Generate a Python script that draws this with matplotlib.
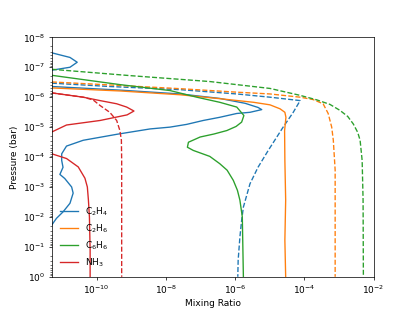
import numpy as np
import matplotlib
matplotlib.use("Agg")
import matplotlib.pyplot as plt

# C2H4
c2h4_x = [1.17e-12, 5.1e-12, 1.7e-11, 2.75e-11, 1.7e-11, 5.6e-12, 1.17e-12, 5.1e-12,
          4.7e-10, 2.6e-8, 3.6e-7, 1.95e-6, 4.6e-6, 5.9e-6, 2.7e-6, 1.12e-6, 3.6e-7,
          1.2e-7, 4.0e-8, 1.32e-8, 3.5e-9, 3.8e-10, 4.1e-11, 1.35e-11, 9.8e-12, 9.8e-12,
          1.07e-11, 8.7e-12, 1.2e-11, 1.9e-11, 2.1e-11, 1.7e-11, 1.07e-11, 6.9e-12,
          5.0e-12, 2.3e-12]
c2h4_p = [1.9e-8, 3.3e-8, 4.7e-8, 6.8e-8, 1.0e-7, 1.23e-7, 2.0e-7, 4.4e-7,
          5.8e-7, 7.8e-7, 1.1e-6, 1.6e-6, 2.2e-6, 2.6e-6, 3.2e-6, 3.5e-6, 4.7e-6,
          6.0e-6, 8.1e-6, 1.0e-5, 1.15e-5, 1.74e-5, 2.75e-5, 4.3e-5, 7.8e-5, 1.3e-4,
          2.2e-4, 3.8e-4, 5.2e-4, 1.0e-3, 1.6e-3, 3.5e-3, 6.8e-3, 1.12e-2,
          1.9e-2, 6.0e-2]
c2h4_dash_x = [5.1e-12, 2.4e-10, 2.6e-8, 1.12e-6, 1.02e-5, 7.6e-5, 4.8e-5, 2.45e-5,
               9.1e-6, 4.6e-6, 2.7e-6, 1.74e-6, 1.55e-6, 1.38e-6, 1.23e-6, 1.2e-6]
c2h4_dash_p = [3.4e-7, 4.4e-7, 5.6e-7, 7.8e-7, 1.0e-6, 1.3e-6, 3.2e-6, 1.0e-5,
               6.0e-5, 2.2e-4, 7.8e-4, 4.7e-3, 1.3e-2, 4.7e-2, 0.275, 1.0]

# C2H6
c2h6_x = [5.1e-12, 4.8e-10, 2.6e-8, 3.6e-7, 3.4e-6, 1.02e-5, 2.0e-5, 2.75e-5,
          2.95e-5, 2.7e-5, 2.75e-5, 2.9e-5, 2.75e-5, 2.9e-5]
c2h6_p = [4.9e-7, 6.2e-7, 8.3e-7, 1.12e-6, 1.48e-6, 1.8e-6, 2.45e-6, 3.2e-6,
          4.7e-6, 1.3e-5, 1.3e-4, 2.75e-3, 6.0e-2, 1.0]
c2h6_dash_x = [5.1e-12, 2.4e-10, 2.6e-8, 1.12e-6, 1.02e-5, 7.6e-5, 1.8e-4, 3.5e-4,
               4.9e-4, 6.2e-4, 6.9e-4, 7.8e-4, 7.8e-4]
c2h6_dash_p = [3.1e-7, 3.9e-7, 5.2e-7, 6.8e-7, 7.8e-7, 1.0e-6, 1.2e-6, 1.66e-6,
               3.5e-6, 1.0e-5, 2.75e-5, 2.75e-4, 1.0]

# C6H6
c6h6_x = [5.1e-12, 4.7e-10, 1.32e-8, 7.8e-8, 3.6e-7, 1.12e-6, 1.8e-6, 1.55e-6,
          1.07e-6, 5.8e-7, 2.45e-7, 9.8e-8, 4.5e-8, 4.2e-8, 6.2e-8, 1.86e-7, 3.6e-7,
          5.9e-7, 8.9e-7, 1.17e-6, 1.38e-6, 1.62e-6, 1.66e-6, 1.74e-6]
c6h6_p = [1.86e-7, 3.8e-7, 6.0e-7, 1.0e-6, 1.48e-6, 2.14e-6, 4.1e-6, 6.8e-6,
          9.5e-6, 1.3e-5, 1.7e-5, 2.14e-5, 3.2e-5, 4.7e-5, 6.0e-5, 9.5e-5, 1.66e-4,
          2.75e-4, 6.0e-4, 1.29e-3, 2.75e-3, 1.0e-2, 4.7e-2, 1.0]
c6h6_dash_x = [5.1e-12, 9.1e-10, 1.86e-7, 1.02e-5, 7.6e-5, 2.3e-4, 5.5e-4, 1.07e-3,
               1.8e-3, 2.6e-3, 3.5e-3, 4.1e-3, 4.7e-3, 5.0e-3, 5.1e-3]
c6h6_dash_p = [1.17e-7, 1.9e-7, 3.0e-7, 5.1e-7, 8.7e-7, 1.23e-6, 1.74e-6, 2.75e-6,
               4.4e-6, 7.8e-6, 1.5e-5, 2.75e-5, 1.3e-4, 2.75e-3, 1.0]

# NH3
nh3_x = [1.17e-12, 5.1e-12, 4.1e-11, 1.26e-10, 3.8e-10, 7.4e-10, 1.2e-9, 7.6e-10,
         1.26e-10, 1.35e-11, 5.1e-12, 1.17e-12, 1.17e-12, 5.1e-12, 1.35e-11, 2.95e-11,
         4.6e-11, 5.4e-11, 5.8e-11, 6.2e-11, 6.5e-11, 6.5e-11]
nh3_p = [5.8e-7, 7.2e-7, 1.0e-6, 1.3e-6, 1.66e-6, 2.14e-6, 2.9e-6, 3.9e-6,
         6.0e-6, 8.5e-6, 1.45e-5, 2.4e-5, 6.0e-5, 7.8e-5, 1.12e-4, 2.14e-4,
         5.1e-4, 1.0e-3, 2.75e-3, 1.0e-2, 0.13, 1.0]
nh3_dash_x = [1.17e-12, 5.1e-12, 4.1e-11, 7.9e-11, 1.26e-10, 2.4e-10, 3.8e-10, 4.7e-10,
              5.2e-10, 5.3e-10, 5.3e-10]
nh3_dash_p = [5.8e-7, 7.2e-7, 1.0e-6, 1.23e-6, 1.9e-6, 3.2e-6, 6.0e-6, 1.3e-5,
              2.75e-5, 1.3e-4, 1.0]

labels = ['C$_2$H$_4$', 'C$_2$H$_6$', 'C$_6$H$_6$', 'NH$_3$']

fig, ax = plt.subplots(figsize=(415/65, 311/65), dpi=65)

solid = [(c2h4_x, c2h4_p), (c2h6_x, c2h6_p), (c6h6_x, c6h6_p), (nh3_x, nh3_p)]
dashed = [(c2h4_dash_x, c2h4_dash_p), (c2h6_dash_x, c2h6_dash_p),
          (c6h6_dash_x, c6h6_dash_p), (nh3_dash_x, nh3_dash_p)]

for i, ((xs, ps), (xd, pd)) in enumerate(zip(solid, dashed)):
    ax.plot(xs, ps, color=f'C{i}', label=labels[i])
    ax.plot(xd, pd, color=f'C{i}', ls='--')

ax.set_xscale('log')
ax.set_yscale('log')
ax.set_xlim(5.1e-12, 1e-2)
ax.set_ylim(1, 1e-8)
ax.set_xlabel('Mixing Ratio')
ax.set_ylabel('Pressure (bar)')
ax.legend(loc='lower left', frameon=False)

fig.savefig('out.png', dpi=65)
